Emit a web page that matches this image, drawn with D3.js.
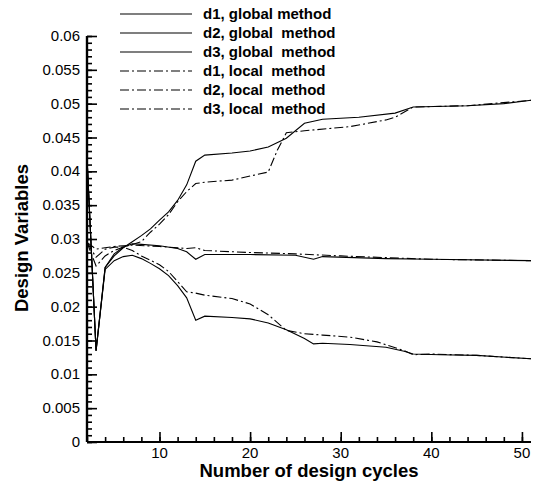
<!DOCTYPE html>
<html>
<head>
<meta charset="utf-8">
<script src="https://cdn.jsdelivr.net/npm/d3@7"></script>
<style>
  body { margin: 0; background: #fff; }
  svg { display: block; }
</style>
</head>
<body>
<div id="chart"></div>
<script>
// design cycles + values
const cycG1 = [2, 3, 4, 5, 6, 7, 8, 9, 10, 11, 12, 13, 14, 15, 18, 20, 22, 24, 26, 28, 32, 36, 38, 44, 48, 51];
const d1Global = [0.042, 0.0135, 0.0258, 0.0275, 0.0287, 0.0296, 0.0305, 0.0315, 0.0328, 0.034, 0.0357, 0.038, 0.0415, 0.0424, 0.0427, 0.043, 0.0436, 0.0449, 0.0471, 0.0477, 0.048, 0.0486, 0.0495, 0.0497, 0.05, 0.0505];

const cycG2 = [2, 3, 4, 5, 6, 7, 8, 10, 12, 13, 14, 15, 20, 25, 27, 28, 35, 40, 51];
const d2Global = [0.042, 0.0135, 0.0258, 0.0278, 0.0288, 0.0293, 0.0292, 0.029, 0.0286, 0.0281, 0.027, 0.0277, 0.0277, 0.0276, 0.027, 0.0274, 0.0271, 0.027, 0.0268];

const cycG3 = [2, 3, 4, 5, 6, 7, 8, 9, 10, 11, 12, 13, 14, 15, 18, 20, 22, 24, 26, 27, 28, 31, 35, 37, 38, 41, 45, 51];
const d3Global = [0.042, 0.0135, 0.0255, 0.0268, 0.0274, 0.0276, 0.0271, 0.0264, 0.0256, 0.0246, 0.0231, 0.0213, 0.018, 0.0186, 0.0184, 0.0182, 0.0176, 0.0166, 0.0153, 0.0145, 0.0146, 0.0144, 0.014, 0.0134, 0.013, 0.0129, 0.0128, 0.0123];

const cycL1 = [2, 3, 4, 5, 6, 7, 8, 9, 10, 11, 12, 13, 14, 15, 18, 22, 23, 24, 26, 31, 35, 36, 38, 44, 51];
const d1Local = [0.0295, 0.026, 0.0275, 0.0283, 0.0288, 0.0292, 0.0296, 0.031, 0.0322, 0.0336, 0.0355, 0.037, 0.0382, 0.0384, 0.0387, 0.0399, 0.0431, 0.0457, 0.046, 0.0466, 0.0476, 0.048, 0.0495, 0.0497, 0.0505];

const cycL2 = [2, 3, 4, 5, 6, 7, 10, 13, 14, 15, 20, 25, 30, 40, 51];
const d2Local = [0.0295, 0.0285, 0.0287, 0.0289, 0.029, 0.0291, 0.0289, 0.0286, 0.0287, 0.0283, 0.028, 0.0278, 0.0275, 0.027, 0.0268];

const cycL3 = [2, 3, 4, 5, 6, 7, 8, 10, 11, 12, 13, 14, 15, 18, 20, 22, 24, 26, 28, 31, 34, 37, 38, 40, 45, 51];
const d3Local = [0.0295, 0.0273, 0.0285, 0.0288, 0.0288, 0.0283, 0.0275, 0.0262, 0.0252, 0.0237, 0.0222, 0.022, 0.0217, 0.0212, 0.0204, 0.0188, 0.0165, 0.016, 0.0158, 0.0155, 0.0148, 0.0135, 0.0129, 0.013, 0.0128, 0.0123];

const legendLabels = ["d1, global method", "d2, global  method", "d3, global  method",
                      "d1, local  method", "d2, local  method", "d3, local  method"];

const yTicks = [0, 0.005, 0.01, 0.015, 0.02, 0.025, 0.03, 0.035, 0.04, 0.045, 0.05, 0.055, 0.06];
const xTicks = [10, 20, 30, 40, 50];

const width = 533, height = 487;
const margin = {top: 36, right: 2, bottom: 45, left: 87};

const x = d3.scaleLinear().domain([2, 51]).range([margin.left, width - margin.right]);
const y = d3.scaleLinear().domain([0, 0.06]).range([height - margin.bottom, margin.top]);

const svg = d3.select("#chart").append("svg")
    .attr("width", width)
    .attr("height", height)
    .style("font-family", "'Liberation Sans', Arial, sans-serif");

const dashDot = "9,3,2,3";

const series = [
  {xs: cycG1, ys: d1Global, dash: null},
  {xs: cycG2, ys: d2Global, dash: null},
  {xs: cycG3, ys: d3Global, dash: null},
  {xs: cycL1, ys: d1Local, dash: dashDot},
  {xs: cycL2, ys: d2Local, dash: dashDot},
  {xs: cycL3, ys: d3Local, dash: dashDot}
];

const line = d3.line().x(d => x(d[0])).y(d => y(d[1]));

svg.append("g")
    .attr("fill", "none")
    .attr("stroke", "#000")
  .selectAll("path")
  .data(series)
  .join("path")
    .attr("stroke-width", 1.1)
    .attr("stroke-dasharray", d => d.dash)
    .attr("d", d => line(d.xs.map((v, i) => [v, d.ys[i]])));

// x axis: major every 10, minor every 2, ticks pointing inward
const xAxis = svg.append("g")
    .attr("transform", `translate(0,${y(0)})`)
    .call(d3.axisTop(x).tickValues(d3.range(2, 52, 2)).tickSize(5).tickFormat(""));
xAxis.append("g")
    .call(d3.axisTop(x).tickValues(xTicks).tickSize(10).tickFormat(""));
xAxis.selectAll("text").remove();
xAxis.selectAll(".tick line").attr("stroke-width", 1.6);
xAxis.selectAll(".domain").attr("d", `M${x(2)},0H${x(51)}`).attr("stroke-width", 2.2);

svg.append("g")
    .selectAll("text")
    .data(xTicks)
    .join("text")
    .attr("x", d => x(d))
    .attr("y", y(0) + 16)
    .attr("text-anchor", "middle")
    .attr("font-size", 15)
    .text(d => d);

// y axis: major every 0.005, minor every 0.001
const yAxis = svg.append("g")
    .attr("transform", `translate(${x(2)},0)`)
    .call(d3.axisRight(y).tickValues(d3.range(0, 61).map(i => i / 1000)).tickSize(5).tickFormat(""));
yAxis.append("g")
    .call(d3.axisRight(y).tickValues(yTicks).tickSize(10).tickFormat(""));
yAxis.selectAll(".tick line").attr("stroke-width", 1.6);
yAxis.selectAll(".domain").attr("d", `M0,${y(0)}V${y(0.06)}`).attr("stroke-width", 2.2);

svg.append("g")
    .selectAll("text")
    .data(yTicks)
    .join("text")
    .attr("x", x(2) - 7)
    .attr("y", d => y(d) + 5)
    .attr("text-anchor", "end")
    .attr("font-size", 15)
    .text(d => d);

// axis titles
svg.append("text")
    .attr("x", 309)
    .attr("y", 477)
    .attr("text-anchor", "middle")
    .attr("font-size", 18.5)
    .attr("font-weight", "bold")
    .text("Number of design cycles");

svg.append("text")
    .attr("transform", `translate(28,238) rotate(-90)`)
    .attr("text-anchor", "middle")
    .attr("font-size", 18.5)
    .attr("font-weight", "bold")
    .text("Design Variables");

// legend
const legend = svg.append("g").selectAll("g")
  .data(series)
  .join("g")
    .attr("transform", (d, i) => `translate(120,${14 + i * 19})`);

legend.append("line")
    .attr("x1", 0).attr("x2", 72)
    .attr("stroke", "#000")
    .attr("stroke-width", 1.1)
    .attr("stroke-dasharray", d => d.dash);

legend.append("text")
    .attr("x", 83)
    .attr("y", 5)
    .attr("font-size", 15)
    .attr("font-weight", "bold")
    .style("white-space", "pre")
    .text((d, i) => legendLabels[i]);
</script>
</body>
</html>
